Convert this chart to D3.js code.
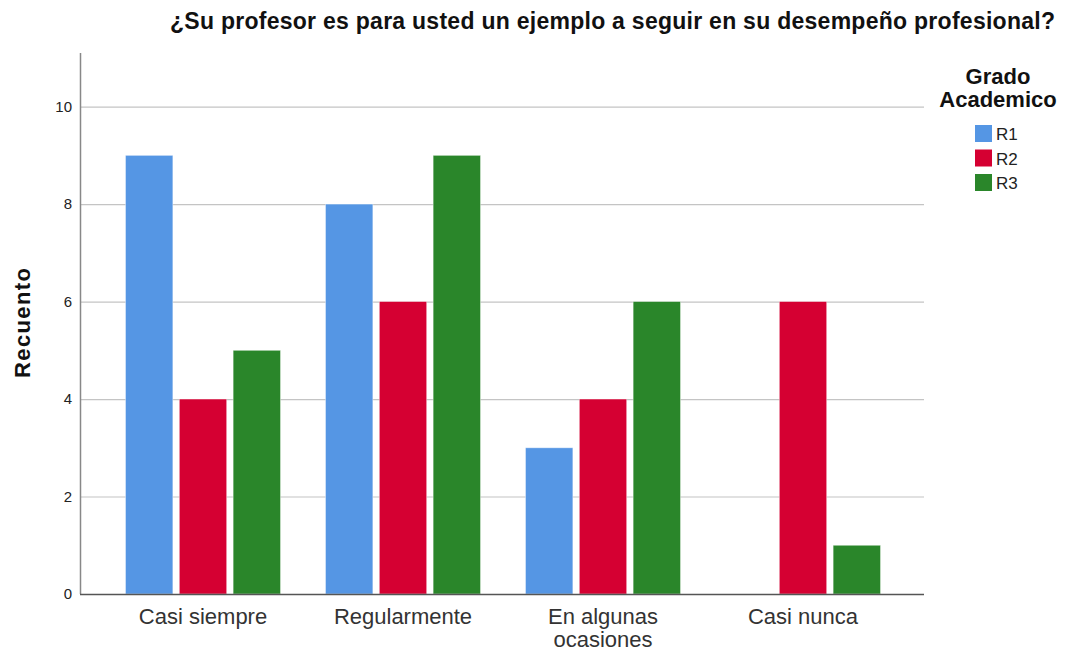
<!DOCTYPE html>
<html>
<head>
<meta charset="utf-8">
<script src="https://cdn.jsdelivr.net/npm/d3@7"></script>
<style>
  body { margin: 0; background: #fff; }
  text { font-family: "Liberation Sans", Arial, sans-serif; }
</style>
</head>
<body>
<div id="chart"></div>
<script>
const categories = ["Casi siempre", "Regularmente", "En algunas ocasiones", "Casi nunca"];
const categoryLines = [["Casi siempre"], ["Regularmente"], ["En algunas", "ocasiones"], ["Casi nunca"]];
const seriesNames = ["R1", "R2", "R3"];
const r1 = [9, 8, 3, 0];
const r2 = [4, 6, 4, 6];
const r3 = [5, 9, 6, 1];
const yTicks = [0, 2, 4, 6, 8, 10];

const colors = { R1: "#5596e4", R2: "#d50032", R3: "#2a862a" };
const seriesValues = { R1: r1, R2: r2, R3: r3 };

const W = 1066, H = 654;
const svg = d3.select("#chart").append("svg").attr("width", W).attr("height", H);

const plot = { left: 80, right: 924, top: 53, bottom: 594 };

const x0 = d3.scaleBand().domain(categories).range([103, 903]).padding(0);
const x1 = d3.scaleBand().domain(seriesNames).range([22.5, 177.5]).paddingInner(0.12);
const y = d3.scaleLinear().domain([0, 11.1]).range([plot.bottom, plot.top]);

// gridlines
svg.append("g").selectAll("line")
  .data(yTicks.filter(d => d > 0))
  .enter().append("line")
  .attr("x1", plot.left).attr("x2", plot.right)
  .attr("y1", d => y(d) + 0.5).attr("y2", d => y(d) + 0.5)
  .attr("stroke", "#c4c4c4").attr("stroke-width", 1.2);

// bars
const rows = [];
categories.forEach((c, i) => seriesNames.forEach(s => rows.push({ cat: c, s: s, v: seriesValues[s][i] })));

svg.append("g").selectAll("rect")
  .data(rows.filter(d => d.v > 0))
  .enter().append("rect")
  .attr("x", d => x0(d.cat) + x1(d.s))
  .attr("y", d => y(d.v))
  .attr("width", x1.bandwidth())
  .attr("height", d => y(0) - y(d.v))
  .attr("fill", d => colors[d.s])
  .attr("stroke", "#ffffff").attr("stroke-opacity", 0.5).attr("stroke-width", 0.8);

// y axis
const yAxis = svg.append("g")
  .attr("transform", `translate(${plot.left},0)`)
  .call(d3.axisLeft(y).tickValues(yTicks).tickSize(0).tickPadding(8));
yAxis.select(".domain").remove();
yAxis.selectAll("text").attr("font-size", 15).attr("fill", "#222");
svg.append("line")
  .attr("x1", plot.left + 0.5).attr("x2", plot.left + 0.5)
  .attr("y1", plot.top).attr("y2", plot.bottom)
  .attr("stroke", "#888").attr("stroke-width", 1.5);

// x axis
svg.append("line")
  .attr("x1", plot.left).attr("x2", plot.right)
  .attr("y1", plot.bottom + 0.5).attr("y2", plot.bottom + 0.5)
  .attr("stroke", "#555").attr("stroke-width", 1.3);

const xl = svg.append("g").selectAll("text")
  .data(categories)
  .enter().append("text")
  .attr("x", d => x0(d) + x0.bandwidth() / 2)
  .attr("y", 624)
  .attr("text-anchor", "middle")
  .attr("font-size", 22)
  .attr("fill", "#333");
xl.each(function(d, i) {
  const t = d3.select(this);
  categoryLines[i].forEach((line, j) => {
    t.append("tspan")
      .attr("x", x0(d) + x0.bandwidth() / 2)
      .attr("dy", j === 0 ? 0 : 23)
      .text(line);
  });
});

// axis title
svg.append("text")
  .attr("transform", "translate(30,323) rotate(-90)")
  .attr("text-anchor", "middle")
  .attr("font-size", 22).attr("font-weight", "bold").attr("fill", "#111")
  .attr("textLength", 110).attr("lengthAdjust", "spacing")
  .text("Recuento");

// title
svg.append("text")
  .attr("x", 170).attr("y", 29)
  .attr("font-size", 23).attr("font-weight", "bold").attr("fill", "#111")
  .attr("textLength", 885).attr("lengthAdjust", "spacing")
  .text("¿Su profesor es para usted un ejemplo a seguir en su desempeño profesional?");

// legend
const lg = svg.append("g");
lg.append("text")
  .attr("text-anchor", "middle")
  .attr("font-size", 22).attr("font-weight", "bold").attr("fill", "#111")
  .selectAll("tspan").data(["Grado", "Academico"]).enter().append("tspan")
  .attr("x", 998).attr("y", (d, i) => 84 + i * 23).text(d => d);

const items = lg.selectAll("g.item").data(seriesNames).enter().append("g")
  .attr("transform", (d, i) => `translate(975,${125 + i * 24.5})`);
items.append("rect")
  .attr("width", 17).attr("height", 17)
  .attr("fill", d => colors[d]);
items.append("text")
  .attr("x", 21).attr("y", 15)
  .attr("font-size", 17).attr("fill", "#222")
  .text(d => d);
</script>
</body>
</html>
